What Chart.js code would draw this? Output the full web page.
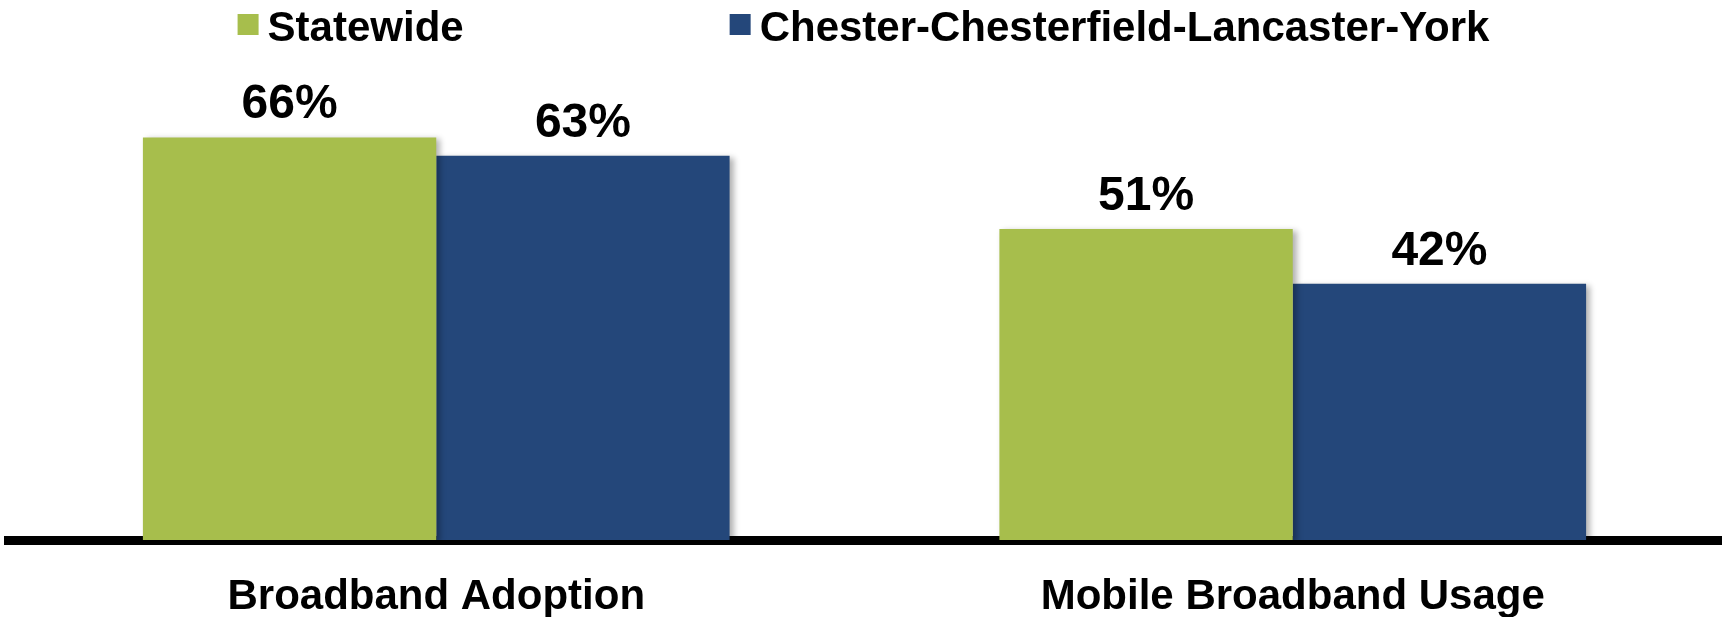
<!DOCTYPE html>
<html>
<head>
<meta charset="utf-8">
<script src="https://cdn.jsdelivr.net/npm/chart.js@4"></script>
<style>
  html, body { margin: 0; padding: 0; background: #fff; }
  #wrap { width: 1727px; height: 617px; }
</style>
</head>
<body>
<div id="wrap"><canvas id="chart"></canvas></div>
<script>
// data
const categories = ['Broadband Adoption', 'Mobile Broadband Usage'];
const seriesNames = ['Statewide', 'Chester-Chesterfield-Lancaster-York'];
const statewide = [66, 51];
const region = [63, 42];
const seriesColors = ['#A7BE4C', '#24477A'];

const FONT = '"Liberation Sans", Arial, Helvetica, sans-serif';

// shadow on the right of bars
const barShadow = {
    id: 'barShadow',
    beforeDatasetsDraw(chart) {
        const c = chart.ctx;
        c.save();
        c.shadowColor = 'rgba(0,0,0,0.3)';
        c.shadowBlur = 6;
        c.shadowOffsetX = 4;
        c.shadowOffsetY = 2;
    },
    afterDatasetsDraw(chart) {
        chart.ctx.restore();
    }
};

// value labels above bars
const valueLabels = {
    id: 'valueLabels',
    afterDatasetsDraw(chart) {
        const c = chart.ctx;
        c.save();
        c.font = 'bold 48px ' + FONT;
        c.fillStyle = '#000';
        c.textAlign = 'center';
        c.textBaseline = 'alphabetic';
        chart.data.datasets.forEach((ds, i) => {
            chart.getDatasetMeta(i).data.forEach((bar, j) => {
                c.fillText(ds.data[j] + '%', bar.x, bar.y - 19);
            });
        });
        c.restore();
    }
};

// legend row at the top
const topLegend = {
    id: 'topLegend',
    afterDraw(chart) {
        const c = chart.ctx;
        c.save();
        c.font = 'bold 42px ' + FONT;
        const box = 21, gapText = 9, gapItem = 266;
        const widths = chart.data.datasets.map(ds => c.measureText(ds.label).width);
        let total = 0;
        widths.forEach((w, i) => { total += box + gapText + w + (i > 0 ? gapItem : 0); });
        let x = (chart.width - total) / 2;
        c.textBaseline = 'alphabetic';
        c.textAlign = 'left';
        chart.data.datasets.forEach((ds, i) => {
            c.fillStyle = ds.backgroundColor;
            c.fillRect(x, 14, box, box);
            c.fillStyle = '#000';
            c.fillText(ds.label, x + box + gapText, 41);
            x += box + gapText + widths[i] + gapItem;
        });
        c.restore();
    }
};

const ctx = document.getElementById('chart').getContext('2d');
const chart = new Chart(ctx, {
    type: 'bar',
    data: {
        labels: categories,
        datasets: [
            { label: seriesNames[0], data: statewide, backgroundColor: seriesColors[0] },
            { label: seriesNames[1], data: region, backgroundColor: seriesColors[1] }
        ]
    },
    options: {
        responsive: true,
        maintainAspectRatio: false,
        animation: false,
        categoryPercentage: 0.685,
        barPercentage: 1.0,
        layout: { padding: { top: 113, left: 8, right: 6, bottom: 0 } },
        plugins: {
            legend: { display: false },
            tooltip: { enabled: false }
        },
        scales: {
            x: {
                z: 1,
                grid: { display: false, drawTicks: false },
                border: { display: true, color: '#000', width: 9 },
                ticks: {
                    color: '#000',
                    padding: 32,
                    font: { family: FONT, size: 42, weight: 'bold' }
                },
                afterFit(scale) { scale.height = 77; }
            },
            y: {
                display: false,
                min: 0,
                max: 70
            }
        }
    },
    plugins: [barShadow, valueLabels, topLegend]
});
</script>
</body>
</html>
